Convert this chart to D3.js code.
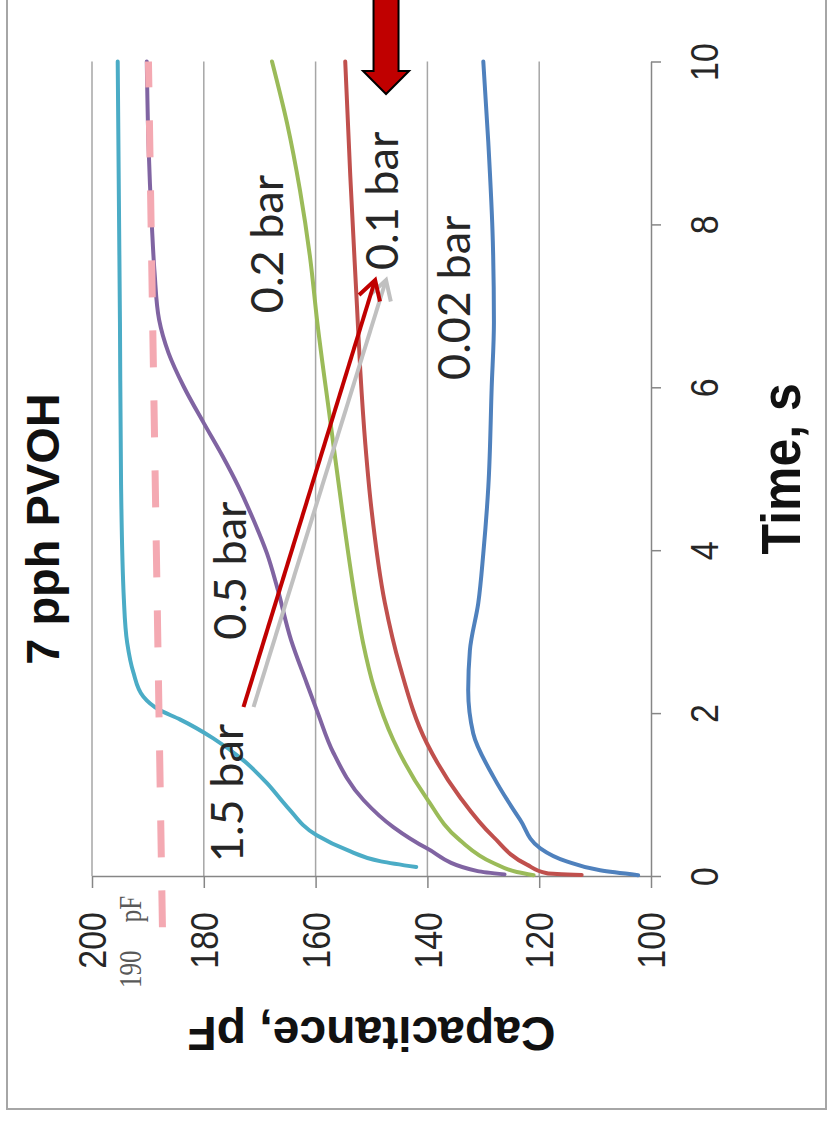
<!DOCTYPE html>
<html>
<head>
<meta charset="utf-8">
<script src="https://cdn.jsdelivr.net/npm/d3@7"></script>
<style>
  body { margin: 0; background: #fff; }
  svg { display: block; }
</style>
</head>
<body>
<svg width="830" height="1122"></svg>
<script>
// values (the chart is turned a quarter turn)
// each point is [time in s, capacitance in pF]
var timeTicks = [0, 2, 4, 6, 8, 10];
var capTicks  = [100, 120, 140, 160, 180, 200];

var bar15 = [[0.11,142],[0.18,148.3],[0.32,154.4],[0.5,159.8],[0.85,165.1],[1.14,168.7],[1.42,172.9],
  [1.69,178.3],[1.92,184.2],[2.04,188],[2.2,190.8],[2.5,192.6],[2.86,193.7],[3.4,194.3],[4.8,194.8],
  [6.8,195],[10,195.4]];
var bar05 = [[0.02,126.2],[0.06,131],[0.34,140.1],[0.6,146.1],[0.93,151.4],[1.51,156.8],[2.0,159.6],
  [2.37,161.6],[2.9,164.4],[3.55,166.9],[3.96,168.7],[4.37,171.1],[4.78,173.8],[5.15,176.6],[5.56,180],
  [6.01,183.6],[6.42,186.3],[6.83,188],[7.4,188.8],[8.0,189.3],[9.0,189.9],[10,190.2]];
var bar02 = [[0.01,121],[0.05,124],[0.16,128.2],[0.44,134.2],[0.95,140.1],[1.67,146.1],[2.3,149.5],
  [2.86,151.5],[3.27,152.6],[4.37,155],[5.6,157.4],[6.8,159.7],[7.6,161],[8.42,162.8],[9.24,165.1],[10,167.8]];
var bar01 = [[0.012,112.4],[0.033,118.6],[0.14,122.2],[0.48,128.2],[0.97,134.2],[1.63,140.1],[2.57,144.9],
  [3.35,147.6],[4.5,150],[5.3,151.1],[6.2,152],[7.0,152.6],[8.6,153.8],[10,154.7]];
var bar002 = [[0.01,102.3],[0.07,109.1],[0.18,115.1],[0.34,119.8],[0.69,123.4],[1.22,128.2],[1.75,131.8],
  [2.28,132.7],[2.77,132.4],[3.35,130.9],[3.96,130],[4.78,129.1],[6.0,128.5],[6.8,128.1],[7.8,128.3],
  [9.0,129.1],[10,130]];

var seriesNames  = ["0.02 bar", "0.1 bar", "0.2 bar", "0.5 bar", "1.5 bar"];
var seriesData   = [bar002, bar01, bar02, bar05, bar15];
var seriesColors = ["#4f81bd", "#c0504d", "#9bbb59", "#8064a2", "#4bacc6"];
// where each series label starts, [time, capacitance]
var labelPos = [[6.09,132.4],[7.44,145.2],[6.91,165.8],[2.9,172.4],[0.17,172.9]];

// 190 pF reference, slightly tilted in the picture
var refLine = [[-0.63,187.4],[10,189.9]];
// hand drawn arrows from "1.5 bar" to "0.1 bar"
var grayArrow = [[2.075,171.1],[7.317,147.4]];
var redArrow  = [[2.075,172.9],[7.317,149.35]];
// big arrow at the top: capacitance of its centre, time of its tip
var bigArrow = [147.4, 9.6];

var svg = d3.select("svg");

// capacitance runs right-to-left, time runs bottom-to-top
var x = d3.scaleLinear().domain([100, 200]).range([651, 92]);
var y = d3.scaleLinear().domain([0, 10]).range([876, 61.5]);

// outer frame
svg.append("rect")
  .attr("x", 7).attr("y", -5)
  .attr("width", 819).attr("height", 1114)
  .attr("fill", "#fff")
  .attr("stroke", "#a6a6a6")
  .attr("stroke-width", 2);

// gridlines
svg.append("g").selectAll("line")
  .data(capTicks.filter(function(d){ return d > 100; }))
  .enter().append("line")
  .attr("x1", function(d){ return x(d); })
  .attr("x2", function(d){ return x(d); })
  .attr("y1", y(10))
  .attr("y2", y(0))
  .attr("stroke", "#a6a6a6")
  .attr("stroke-width", 1.5);

// capacitance axis (bottom edge)
var gC = svg.append("g")
  .attr("transform", "translate(0," + y(0) + ")")
  .call(d3.axisBottom(x).tickValues(capTicks).tickSize(12).tickSizeOuter(0));

// time axis (right edge)
var gT = svg.append("g")
  .attr("transform", "translate(" + x(100) + ",0)")
  .call(d3.axisRight(y).tickValues(timeTicks).tickSize(10).tickSizeOuter(0));

[gC, gT].forEach(function(g){
  g.attr("font-family", "'Liberation Sans', Arial, sans-serif").attr("font-size", 34);
  g.selectAll("path, line").attr("stroke", "#868686").attr("stroke-width", 1.5);
  g.selectAll("text").attr("fill", "#262626");
});

gC.selectAll(".tick text")
  .attr("y", null).attr("dy", "0.35em")
  .attr("text-anchor", "end")
  .attr("transform", "translate(0,36) rotate(-90) scale(1,1.15)");

gT.selectAll(".tick text")
  .attr("x", null).attr("dy", "0.35em")
  .attr("text-anchor", "middle")
  .attr("transform", "translate(53,0) rotate(-90) scale(1,1.15)");

// curves: sorted so screen y grows, then a monotone spline in y
var line = d3.line()
  .x(function(d){ return x(d[1]); })
  .y(function(d){ return y(d[0]); })
  .curve(d3.curveMonotoneY);

svg.append("g").selectAll("path")
  .data(seriesData)
  .enter().append("path")
  .attr("d", function(d){ return line(d.slice().sort(function(a, b){ return b[0] - a[0]; })); })
  .attr("fill", "none")
  .attr("stroke", function(d, i){ return seriesColors[i]; })
  .attr("stroke-width", 4)
  .attr("stroke-linejoin", "round")
  .attr("stroke-linecap", "round");

// dashed 190 pF line
svg.append("path")
  .attr("d", d3.line().x(function(d){ return x(d[1]); }).y(function(d){ return y(d[0]); })(refLine))
  .attr("fill", "none")
  .attr("stroke", "#f4a9b2")
  .attr("stroke-width", 7)
  .attr("stroke-dasharray", "37,33");

svg.append("text")
  .attr("transform", "translate(141,942) rotate(-90) scale(1,1.3)")
  .attr("text-anchor", "middle")
  .attr("font-family", "'Liberation Serif', serif")
  .attr("font-size", 25)
  .style("word-spacing", "22px")
  .attr("fill", "#595959")
  .text("190 pF");

// series labels
svg.append("g").selectAll("text")
  .data(seriesNames)
  .enter().append("text")
  .attr("transform", function(d, i){
    return "translate(" + x(labelPos[i][1]) + "," + y(labelPos[i][0]) + ") rotate(-90)";
  })
  .attr("font-family", "Lato, 'Open Sans', sans-serif")
  .attr("font-size", 45)
  .attr("fill", "#262626")
  .text(function(d){ return d; });

// arrows with open heads
function drawArrow(pts, color){
  var x0 = x(pts[0][1]), y0 = y(pts[0][0]), x1 = x(pts[1][1]), y1 = y(pts[1][0]);
  var a = Math.atan2(y0 - y1, x0 - x1), L = 22, w = 0.52;
  var g = svg.append("g")
    .attr("fill", "none").attr("stroke", color)
    .attr("stroke-width", 4).attr("stroke-linecap", "butt");
  g.append("line").attr("x1", x0).attr("y1", y0).attr("x2", x1).attr("y2", y1);
  g.append("path")
    .attr("stroke-linejoin", "miter")
    .attr("d", "M" + (x1 + L*Math.cos(a - w)) + "," + (y1 + L*Math.sin(a - w)) +
               "L" + x1 + "," + y1 +
               "L" + (x1 + L*Math.cos(a + w)) + "," + (y1 + L*Math.sin(a + w)));
}
drawArrow(grayArrow, "#c0c0c0");
drawArrow(redArrow, "#c00000");

// big down arrow
var cx = x(bigArrow[0]), tip = y(bigArrow[1]);
svg.append("path")
  .attr("d", "M" + (cx - 12.5) + ",-5 L" + (cx - 12.5) + "," + (tip - 23) +
             " L" + (cx - 23) + "," + (tip - 23) + " L" + cx + "," + tip +
             " L" + (cx + 23) + "," + (tip - 23) + " L" + (cx + 12.5) + "," + (tip - 23) +
             " L" + (cx + 12.5) + ",-5 Z")
  .attr("fill", "#c00000")
  .attr("stroke", "#000")
  .attr("stroke-width", 2);

// titles
svg.append("text")
  .attr("transform", "translate(59,529) rotate(-90)")
  .attr("text-anchor", "middle")
  .attr("font-family", "'Liberation Sans', Arial, sans-serif")
  .attr("font-weight", "bold")
  .attr("font-size", 47)
  .attr("fill", "#111")
  .text("7 pph PVOH");

svg.append("text")
  .attr("transform", "translate(800," + ((y(0) + y(10)) / 2) + ") rotate(-90) scale(1,1.1)")
  .attr("text-anchor", "middle")
  .attr("font-family", "'Liberation Sans', Arial, sans-serif")
  .attr("font-weight", "bold")
  .attr("font-size", 50)
  .attr("fill", "#111")
  .text("Time, s");

svg.append("text")
  .attr("transform", "translate(" + ((x(100) + x(200)) / 2) + ",1017) rotate(180)")
  .attr("text-anchor", "middle")
  .attr("font-family", "'Liberation Sans', Arial, sans-serif")
  .attr("font-weight", "bold")
  .attr("font-size", 48)
  .attr("fill", "#111")
  .text("Capacitance, pF");
</script>
</body>
</html>
